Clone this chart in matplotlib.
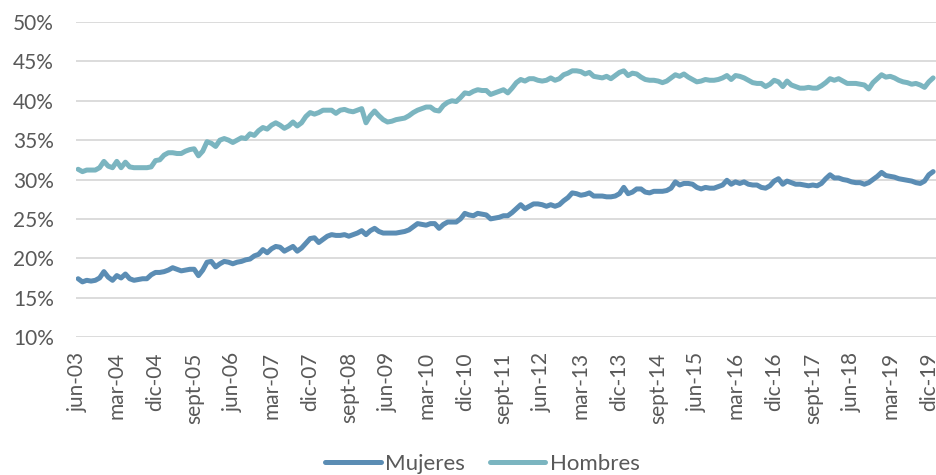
# --- IMPORTS ---
import matplotlib
matplotlib.use("Agg")
import matplotlib.pyplot as plt

# --- DATA ---
# Monthly share (%), jun-03 .. ene-20
hombres = [
    31.3, 31.0, 31.2, 31.2, 31.2, 31.5, 32.3, 31.7, 31.5, 32.3,
    31.5, 32.2, 31.6, 31.5, 31.5, 31.5, 31.5, 31.6, 32.4, 32.5,
    33.1, 33.4, 33.4, 33.3, 33.3, 33.6, 33.8, 33.9, 33.0, 33.6,
    34.8, 34.6, 34.2, 35.0, 35.2, 35.0, 34.7, 35.0, 35.3, 35.2,
    35.8, 35.6, 36.2, 36.6, 36.4, 36.9, 37.2, 36.9, 36.5, 36.8,
    37.3, 36.8, 37.2, 38.0, 38.5, 38.3, 38.5, 38.8, 38.8, 38.8,
    38.4, 38.8, 38.9, 38.7, 38.6, 38.8, 39.0, 37.2, 38.1, 38.7,
    38.1, 37.6, 37.3, 37.4, 37.6, 37.7, 37.8, 38.1, 38.5, 38.8,
    39.0, 39.2, 39.2, 38.8, 38.7, 39.4, 39.8, 40.0, 39.9, 40.4,
    41.0, 40.9, 41.2, 41.4, 41.3, 41.3, 40.8, 41.0, 41.2, 41.4,
    41.0, 41.6, 42.3, 42.7, 42.5, 42.8, 42.8, 42.6, 42.5, 42.6,
    42.9, 42.6, 42.8, 43.3, 43.5, 43.8, 43.8, 43.7, 43.4, 43.6,
    43.1, 43.0, 42.9, 43.1, 42.8, 43.2, 43.6, 43.8, 43.2, 43.5,
    43.4, 43.0, 42.7, 42.6, 42.6, 42.5, 42.3, 42.5, 42.9, 43.3,
    43.1, 43.4, 43.0, 42.7, 42.4, 42.5, 42.7, 42.6, 42.6, 42.7,
    42.9, 43.2, 42.7, 43.2, 43.1, 42.9, 42.6, 42.3, 42.2, 42.2,
    41.8, 42.1, 42.6, 42.4, 41.8, 42.5, 42.0, 41.8, 41.6, 41.6,
    41.7, 41.6, 41.6, 41.9, 42.3, 42.8, 42.6, 42.8, 42.5, 42.2,
    42.2, 42.2, 42.1, 42.0, 41.5, 42.3, 42.8, 43.3, 43.0, 43.1,
    42.9, 42.6, 42.4, 42.3, 42.1, 42.2, 42.0, 41.7, 42.4, 42.9,
]

mujeres = [
    17.4, 17.0, 17.2, 17.1, 17.2, 17.5, 18.3, 17.6, 17.2, 17.8,
    17.5, 18.0, 17.4, 17.2, 17.3, 17.4, 17.4, 17.9, 18.2, 18.2,
    18.3, 18.5, 18.8, 18.6, 18.4, 18.5, 18.6, 18.6, 17.8, 18.5,
    19.5, 19.6, 18.9, 19.3, 19.6, 19.5, 19.3, 19.5, 19.6, 19.8,
    19.9, 20.3, 20.5, 21.1, 20.7, 21.2, 21.5, 21.4, 20.9, 21.2,
    21.5, 20.9, 21.3, 21.9, 22.5, 22.6, 22.0, 22.4, 22.8, 23.0,
    22.9, 22.9, 23.0, 22.8, 23.0, 23.2, 23.5, 23.0, 23.5, 23.8,
    23.4, 23.2, 23.2, 23.2, 23.2, 23.3, 23.4, 23.6, 24.0, 24.4,
    24.3, 24.2, 24.4, 24.4, 23.8, 24.3, 24.6, 24.6, 24.6, 25.0,
    25.7, 25.5, 25.4, 25.7, 25.6, 25.5, 25.0, 25.1, 25.2, 25.4,
    25.4, 25.8, 26.3, 26.8, 26.3, 26.6, 26.9, 26.9, 26.8, 26.6,
    26.8, 26.6, 26.8, 27.3, 27.7, 28.3, 28.2, 28.0, 28.1, 28.3,
    27.9, 27.9, 27.9, 27.8, 27.8, 27.9, 28.2, 29.0, 28.2, 28.4,
    28.8, 28.8, 28.4, 28.3, 28.5, 28.5, 28.5, 28.6, 28.9, 29.7,
    29.3, 29.5, 29.5, 29.4, 29.0, 28.8, 29.0, 28.9, 28.9, 29.1,
    29.3, 29.9, 29.4, 29.7, 29.5, 29.7, 29.4, 29.3, 29.3, 29.0,
    28.9, 29.2, 29.8, 30.1, 29.4, 29.8, 29.6, 29.4, 29.4, 29.3,
    29.2, 29.3, 29.2, 29.5, 30.1, 30.6, 30.2, 30.2, 30.0, 29.9,
    29.7, 29.6, 29.6, 29.4, 29.6, 30.0, 30.4, 30.9, 30.5, 30.4,
    30.3, 30.1, 30.0, 29.9, 29.8, 29.6, 29.5, 29.8, 30.6, 31.0,
]

tick_labels = [
    "jun-03", "mar-04", "dic-04", "sept-05", "jun-06", "mar-07", "dic-07", "sept-08",
    "jun-09", "mar-10", "dic-10", "sept-11", "jun-12", "mar-13", "dic-13", "sept-14",
    "jun-15", "mar-16", "dic-16", "sept-17", "jun-18", "mar-19", "dic-19",
]
tick_step = 9                                   # one label every 9 months
y_ticks = [10, 15, 20, 25, 30, 35, 40, 45, 50]

# --- STYLE ---
plt.rcParams['font.family'] = ['Lato', 'DejaVu Sans']
col_muj = '#5b8db4'
col_hom = '#7bb5c0'
txt_col = '#595959'
grid_col = '#d9d9d9'

# --- PLOT ---
fig = plt.figure(figsize=(9.37, 4.75), dpi=100)
ax = fig.add_axes([0.0811, 0.2905, 0.9189, 0.6632])

x = list(range(len(mujeres)))
ax.plot(x, mujeres, color=col_muj, linewidth=3.6, solid_capstyle='round', solid_joinstyle='round', label='Mujeres', zorder=3)
ax.plot(x, hombres, color=col_hom, linewidth=3.6, solid_capstyle='round', solid_joinstyle='round', label='Hombres', zorder=3)

ax.set_xlim(-0.5, 199.9)
ax.set_ylim(10, 50)
ax.set_yticks(y_ticks)
ax.set_yticklabels([f"{v}%" for v in y_ticks])
ax.set_xticks([i * tick_step for i in range(len(tick_labels))])
ax.set_xticklabels(tick_labels, rotation=90, ha='center', va='top')

ax.grid(axis='y', color=grid_col, linewidth=1.3)
ax.set_axisbelow(True)
for s in ax.spines.values():
    s.set_visible(False)
ax.tick_params(axis='y', length=0, pad=16, labelsize=15, labelcolor=txt_col)
ax.tick_params(axis='x', length=0, pad=11, labelsize=15, labelcolor=txt_col)

leg = fig.legend(loc='center', bbox_to_anchor=(0.515, 0.024), ncol=2, frameon=False,
                 fontsize=16, handlelength=2.5, handletextpad=0.2, columnspacing=1.1)
for t in leg.get_texts():
    t.set_color(txt_col)

fig.savefig('out.png', dpi=100)
